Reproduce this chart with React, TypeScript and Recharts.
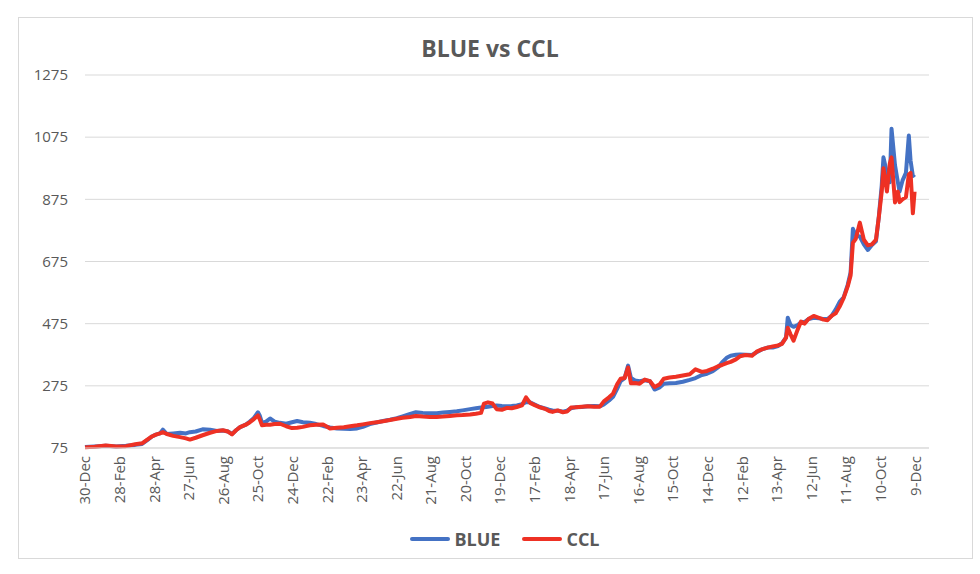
import { LineChart, Line, XAxis, YAxis, CartesianGrid, Legend } from "recharts";

// days since 30-Dec (first point)
const DAYS = [
  0, 17, 36, 54, 71, 87, 99, 108, 116, 123, 130, 135, 142, 153, 165, 175, 182, 192, 204, 217,
  229, 239, 248, 255, 262, 269, 279, 286, 293, 300, 303, 307, 314, 321, 329, 338, 349, 359, 368, 378,
  390, 401, 413, 425, 437, 449, 460, 472, 482, 494, 506, 517, 529, 541, 551, 564, 574, 586, 598, 610,
  621, 633, 645, 655, 668, 678, 687, 692, 699, 707, 714, 723, 732, 740, 749, 758, 765, 772, 780, 789,
  798, 805, 811, 820, 829, 836, 843, 851, 862, 872, 883, 893, 900, 909, 916, 923, 929, 936, 942, 947,
  954, 962, 971, 980, 988, 997, 1004, 1014, 1025, 1037, 1049, 1059, 1070, 1079, 1089, 1098, 1105, 1113, 1120, 1129,
  1136, 1146, 1157, 1165, 1174, 1184, 1193, 1202, 1209, 1216, 1219, 1224, 1229, 1236, 1242, 1248, 1255, 1264, 1273, 1281,
  1288, 1295, 1302, 1309, 1316, 1323, 1328, 1332, 1337, 1344, 1351, 1358, 1365, 1372, 1377, 1382, 1385, 1391, 1396, 1399,
  1405, 1410, 1413, 1418, 1424, 1429, 1432, 1436, 1439,
];

const BLUE = [
  78, 80, 82, 80, 82, 85, 88, 100, 112, 118, 122, 134, 120, 122, 124, 122, 126, 128, 135, 134,
  130, 131, 128, 120, 132, 142, 150, 160, 172, 190, 180, 156, 160, 170, 160, 156, 153, 158, 162, 158,
  156, 152, 146, 141, 138, 137, 136, 138, 143, 152, 157, 162, 166, 171, 177, 185, 190, 188, 187, 187,
  189, 191, 193, 196, 200, 203, 205, 206, 208, 210, 212, 210, 209, 210, 212, 216, 222, 222, 215, 207,
  202, 198, 196, 195, 192, 195, 203, 206, 207, 209, 210, 209, 215, 228, 240, 265, 290, 300, 340, 300,
  292, 290, 293, 290, 263, 270, 282, 283, 284, 288, 294, 300, 310, 314, 322, 334, 350, 365, 372, 375,
  376, 375, 374, 383, 392, 398, 398, 403, 412, 430, 494, 470, 465, 470, 480, 480, 490, 494, 492, 490,
  490, 500, 520, 545, 560, 600, 640, 780, 760, 755, 730, 712, 728, 740, 820, 920, 1010, 960, 930, 1102,
  985, 930, 900, 935, 960, 1080, 1000, 950, 955,
];

const CCL = [
  77, 79, 83, 80, 81, 87, 90, 102, 112, 118, 122, 126, 120, 114, 110, 106, 102, 108, 116, 124,
  130, 132, 128, 119, 132, 142, 150, 158, 168, 180, 168, 148, 150, 150, 152, 153, 145, 139, 140, 143,
  148, 150, 151, 138, 140, 142, 145, 148, 151, 155, 158, 161, 165, 169, 172, 175, 178, 176, 175, 175,
  176, 178, 180, 181, 183, 185, 188, 218, 222, 218, 200, 198, 204, 203, 207, 212, 238, 220, 213, 206,
  201, 194, 191, 196, 190, 192, 205, 206, 208, 209, 208, 208, 225, 238, 250, 280, 298, 300, 334, 283,
  284, 282, 295, 290, 271, 280, 298, 302, 304, 308, 312, 328, 320, 323, 330, 338, 342, 348, 352, 360,
  370, 374, 372, 385, 392, 398, 402, 405, 410, 430, 462, 440, 420, 455, 482, 475, 490, 500, 494, 488,
  486, 500, 508, 530, 558, 595, 630, 735, 748, 800, 745, 727, 730, 745, 818, 900, 975, 900, 990, 1010,
  865, 900, 866, 875, 882, 955, 960, 830, 900,
];

const X_TICKS = [0, 60, 120, 180, 240, 300, 360, 420, 480, 540, 600, 660, 720, 780, 840, 900, 960, 1020, 1080, 1140, 1200, 1260, 1320, 1380, 1440];
const X_LABELS = [
  "30-Dec", "28-Feb", "28-Apr", "27-Jun", "26-Aug", "25-Oct", "24-Dec", "22-Feb", "23-Apr",
  "22-Jun", "21-Aug", "20-Oct", "19-Dec", "17-Feb", "18-Apr", "17-Jun", "16-Aug", "15-Oct",
  "14-Dec", "12-Feb", "13-Apr", "12-Jun", "11-Aug", "10-Oct", "9-Dec",
];
const Y_TICKS = [75, 275, 475, 675, 875, 1075, 1275];

const data = DAYS.map((d, i) => ({ d, blue: BLUE[i], ccl: CCL[i] }));

const FONT = "'Open Sans', sans-serif";
const GREY = "#595959";

function DateTick({ x, y, payload }: any) {
  const i = X_TICKS.indexOf(payload.value);
  return (
    <text
      x={x}
      y={y}
      transform={`rotate(-90, ${x}, ${y})`}
      textAnchor="end"
      dy="0.36em"
      fontSize={15}
      fontFamily={FONT}
      fill={GREY}
    >
      {X_LABELS[i]}
    </text>
  );
}

function LegendBox() {
  const items = [
    { name: "BLUE", color: "#4472C4" },
    { name: "CCL", color: "#EE3124" },
  ];
  return (
    <div style={{ display: "flex", justifyContent: "center", gap: 22, fontFamily: FONT, paddingLeft: 30 }}>
      {items.map((it) => (
        <div key={it.name} style={{ display: "flex", alignItems: "center", gap: 4 }}>
          <span style={{ width: 40, height: 4, background: it.color, borderRadius: 2, display: "inline-block" }} />
          <span style={{ fontSize: 18, fontWeight: 700, color: GREY }}>{it.name}</span>
        </div>
      ))}
    </div>
  );
}

export default function App() {
  return (
    <div style={{ position: "absolute", left: 0, top: 0, width: 980, height: 574, background: "#fff" }}>
      <div
        style={{
          position: "absolute",
          left: 18,
          top: 17,
          width: 953,
          height: 540,
          border: "1px solid #d9d9d9",
        }}
      />
      <div
        style={{
          position: "absolute",
          left: 0,
          top: 32,
          width: 980,
          textAlign: "center",
          fontFamily: FONT,
          fontWeight: 700,
          fontSize: 23,
          color: GREY,
        }}
      >
        BLUE vs CCL
      </div>
      <div style={{ position: "absolute", left: 0, top: 0 }}>
        <LineChart width={980} height={574} data={data} margin={{ top: 75, right: 51, left: 0, bottom: 56 }}>
          <CartesianGrid horizontal vertical={false} stroke="#d9d9d9" />
          <XAxis
            dataKey="d"
            type="number"
            domain={[0, 1464]}
            ticks={X_TICKS}
            interval={0}
            height={70}
            tick={<DateTick />}
            tickLine={false}
            axisLine={{ stroke: "#d9d9d9" }}
          />
          <YAxis
            type="number"
            domain={[75, 1275]}
            ticks={Y_TICKS}
            width={85}
            axisLine={false}
            tickLine={false}
            tickMargin={11}
            tick={{ fontSize: 15, fontFamily: FONT, fill: GREY }}
          />
          <Legend
            verticalAlign="middle"
            align="center"
            layout="horizontal"
            wrapperStyle={{ top: 527, left: 0, width: 980 }}
            content={() => <LegendBox />}
          />
          <Line
            type="linear"
            dataKey="blue"
            name="BLUE"
            stroke="#4472C4"
            strokeWidth={4}
            dot={false}
            isAnimationActive={false}
            strokeLinejoin="round"
          />
          <Line
            type="linear"
            dataKey="ccl"
            name="CCL"
            stroke="#EE3124"
            strokeWidth={4}
            dot={false}
            isAnimationActive={false}
            strokeLinejoin="round"
          />
        </LineChart>
      </div>
    </div>
  );
}
